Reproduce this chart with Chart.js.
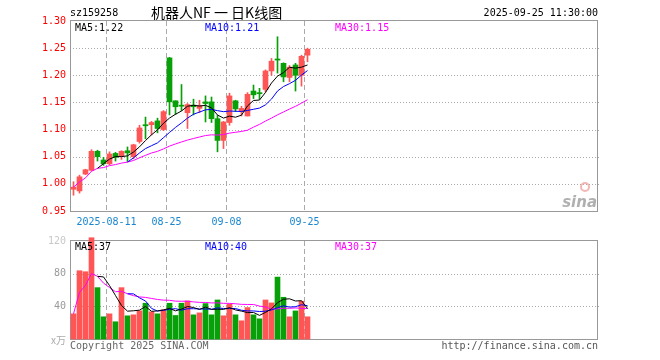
<!DOCTYPE html>
<html>
<head>
<meta charset="utf-8">
<script src="https://cdn.jsdelivr.net/npm/chart.js"></script>
<style>
  body { margin: 0; background: #fff; }
  #wrap { position: relative; width: 660px; height: 360px; }
  #wrap canvas { position: absolute; left: 0; top: 0; }
</style>
</head>
<body>
<div id="wrap">
  <canvas id="volChart" width="660" height="360"></canvas>
  <canvas id="kChart" width="660" height="360"></canvas>
</div>
<script>
// 机器人ETF 159258 daily K line, 2025-08-01 .. 2025-09-25
const dates = [
  "2025-08-01","2025-08-04","2025-08-05","2025-08-06","2025-08-07","2025-08-08",
  "2025-08-11","2025-08-12","2025-08-13","2025-08-14","2025-08-15","2025-08-18",
  "2025-08-19","2025-08-20","2025-08-21","2025-08-22","2025-08-25","2025-08-26",
  "2025-08-27","2025-08-28","2025-08-29","2025-09-01","2025-09-02","2025-09-03",
  "2025-09-04","2025-09-05","2025-09-08","2025-09-09","2025-09-10","2025-09-11",
  "2025-09-12","2025-09-15","2025-09-16","2025-09-17","2025-09-18","2025-09-19",
  "2025-09-22","2025-09-23","2025-09-24","2025-09-25"
];
const openP = [
  0.990, 0.987, 1.018, 1.025, 1.060, 1.044, 1.037, 1.056, 1.051, 1.061,
  1.050, 1.078, 1.109, 1.109, 1.116, 1.100, 1.232, 1.153, 1.145, 1.131,
  1.145, 1.139, 1.151, 1.151, 1.120, 1.080, 1.113, 1.153, 1.134, 1.125,
  1.171, 1.168, 1.174, 1.208, 1.230, 1.222, 1.196, 1.219, 1.200, 1.237
];
const closeP = [
  0.994, 1.013, 1.026, 1.060, 1.050, 1.037, 1.055, 1.049, 1.060, 1.057,
  1.072, 1.103, 1.107, 1.113, 1.102, 1.133, 1.151, 1.142, 1.143, 1.146,
  1.142, 1.144, 1.148, 1.120, 1.080, 1.114, 1.162, 1.138, 1.139, 1.165,
  1.164, 1.166, 1.208, 1.226, 1.228, 1.197, 1.215, 1.200, 1.235, 1.248
];
const highP = [
  1.004, 1.016, 1.027, 1.063, 1.062, 1.049, 1.059, 1.058, 1.061, 1.068,
  1.073, 1.108, 1.123, 1.115, 1.121, 1.135, 1.233, 1.153, 1.183, 1.148,
  1.156, 1.154, 1.162, 1.160, 1.126, 1.115, 1.167, 1.154, 1.143, 1.168,
  1.182, 1.176, 1.210, 1.231, 1.271, 1.223, 1.218, 1.222, 1.237, 1.250
];
const lowP = [
  0.979, 0.983, 1.017, 1.024, 1.042, 1.034, 1.035, 1.042, 1.045, 1.041,
  1.046, 1.075, 1.083, 1.090, 1.094, 1.098, 1.127, 1.128, 1.135, 1.102,
  1.127, 1.131, 1.114, 1.113, 1.059, 1.065, 1.108, 1.133, 1.125, 1.125,
  1.157, 1.156, 1.169, 1.200, 1.204, 1.188, 1.188, 1.171, 1.180, 1.225
];
// volume, 万手
const volume = [
  30.8, 83.6, 82.4, 124, 62.9, 27.2, 30.8, 21.1, 62.9, 28.4,
  29.6, 34.5, 43.8, 33.3, 30.8, 35.7, 43.8, 28.8, 43.8, 46.6,
  29.6, 32.0, 43.4, 29.6, 47.8, 28.4, 42.6, 29.6, 22.3, 38.5,
  29.6, 24.7, 47.8, 44.2, 75.8, 51.1, 27.2, 34.4, 46.2, 27.2
];

const axisTickIndex = [6, 16, 26, 39];
const axisTickLabels = ["2025-08-11", "08-25", "09-08", "09-25"];
const priceTicks = [1.30, 1.25, 1.20, 1.15, 1.10, 1.05, 1.00, 0.95];
const volTicks = [120, 80, 40];
const priceMaText = ["MA5:1.22", "MA10:1.21", "MA30:1.15"];
const volMaText = ["MA5:37", "MA10:40", "MA30:37"];

const UP = "#ff5555", DOWN = "#08a008";
const MA_COLORS = ["#000000", "#0000ff", "#ff00ff"];
const MONO = "10px 'DejaVu Sans Mono', monospace";
const SLOTS = 88;
const X_MIN = -7 / 12;

// moving average; partial=true averages whatever is there for the first days
function movingAvg(values, n, partial) {
  return values.map((_, i) => {
    if (i < n - 1 && !partial) return null;
    const s = values.slice(Math.max(0, i - n + 1), i + 1);
    return s.reduce((a, b) => a + b, 0) / s.length;
  });
}

const candleColors = closeP.map((c, i) => c >= openP[i] ? UP : DOWN);

function maDatasets(values) {
  const mas = [movingAvg(values, 5, false), movingAvg(values, 10, false), movingAvg(values, 30, true)];
  return mas.map((m, k) => ({
    type: "line",
    data: m.map((v, i) => ({ x: i, y: v })),
    borderColor: MA_COLORS[k],
    borderWidth: 1,
    pointRadius: 0,
    tension: 0,
    order: 0
  }));
}

function xScale() {
  return { type: "linear", display: false, min: X_MIN, max: X_MIN + SLOTS, offset: false };
}

function drawFrame(chart, hTicks) {
  const { ctx, chartArea: a, scales: { x, y } } = chart;
  ctx.save();
  ctx.strokeStyle = "#aaaaaa";
  ctx.lineWidth = 1;
  ctx.setLineDash([1, 2]);
  hTicks.forEach(v => {
    const py = Math.round(y.getPixelForValue(v)) + 0.5;
    ctx.beginPath(); ctx.moveTo(a.left, py); ctx.lineTo(a.right + 2, py); ctx.stroke();
  });
  ctx.setLineDash([5, 3]);
  axisTickIndex.forEach(i => {
    const px = Math.floor(x.getPixelForValue(i - 0.5)) + 0.5;
    ctx.beginPath(); ctx.moveTo(px, a.top); ctx.lineTo(px, a.bottom); ctx.stroke();
  });
  ctx.setLineDash([]);
  ctx.strokeStyle = "#999999";
  ctx.strokeRect(a.left + 0.5, a.top - 0.5, a.width - 1, a.height + 1);
  ctx.restore();
}

function drawMaText(ctx, a, texts, ty) {
  ctx.font = MONO;
  ctx.textAlign = "left";
  ctx.textBaseline = "middle";
  const xs = [a.left + 5, a.left + 135, a.left + 265];
  texts.forEach((t, k) => { ctx.fillStyle = MA_COLORS[k]; ctx.fillText(t, xs[k], ty); });
}

const kPlugin = {
  id: "kDecor",
  beforeDatasetsDraw(chart) {
    const { ctx, chartArea: a } = chart;
    drawFrame(chart, priceTicks.filter(v => v > 0.96 && v < 1.29));
    // sina watermark
    ctx.save();
    ctx.strokeStyle = "rgba(240,150,150,0.7)";
    ctx.lineWidth = 2;
    ctx.beginPath(); ctx.arc(a.right - 13, a.bottom - 24, 4, 0, Math.PI * 2); ctx.stroke();
    ctx.font = "italic bold 15px 'DejaVu Sans', sans-serif";
    ctx.fillStyle = "rgba(150,150,150,0.75)";
    ctx.textAlign = "right";
    ctx.textBaseline = "alphabetic";
    ctx.fillText("sina", a.right - 1, a.bottom - 4);
    ctx.restore();
  },
  afterDraw(chart) {
    const { ctx, chartArea: a, scales: { x, y } } = chart;
    ctx.save();
    // price labels
    ctx.font = MONO;
    ctx.fillStyle = "#ff0000";
    ctx.textAlign = "right";
    ctx.textBaseline = "middle";
    priceTicks.forEach(v => ctx.fillText(v.toFixed(2), a.left - 4, y.getPixelForValue(v)));
    // date labels
    ctx.fillStyle = "#1a86d0";
    ctx.textAlign = "center";
    axisTickIndex.forEach((i, k) => ctx.fillText(axisTickLabels[k], x.getPixelForValue(i - 0.5), a.bottom + 11));
    // MA values
    drawMaText(ctx, a, priceMaText, a.top + 7);
    // header
    ctx.fillStyle = "#000";
    ctx.textAlign = "left";
    ctx.fillText("sz159258", a.left, 13);
    ctx.textAlign = "right";
    ctx.fillText("2025-09-25 11:30:00", a.right, 13);
    ctx.textAlign = "left";
    ctx.font = "14px 'Noto Sans CJK SC', sans-serif";
    ctx.fillText("机器人NF 一 日K线图", 151, 13);
    ctx.restore();
  }
};

const volPlugin = {
  id: "volDecor",
  beforeDatasetsDraw(chart) {
    drawFrame(chart, [80, 40]);
  },
  afterDraw(chart) {
    const { ctx, chartArea: a, scales: { y } } = chart;
    ctx.save();
    ctx.font = MONO;
    ctx.textAlign = "right";
    ctx.textBaseline = "middle";
    volTicks.forEach(v => {
      ctx.fillStyle = v === 120 ? "#c8c8c8" : "#999999";
      ctx.fillText(String(v), a.left - 4, y.getPixelForValue(v));
    });
    ctx.fillStyle = "#aaaaaa";
    ctx.font = "10px 'Noto Sans CJK SC', sans-serif";
    ctx.fillText("x万", a.left - 4, a.bottom + 1);
    drawMaText(ctx, a, volMaText, a.top + 6);
    ctx.font = MONO;
    ctx.fillStyle = "#666666";
    ctx.textAlign = "left";
    ctx.fillText("Copyright 2025 SINA.COM", a.left, a.bottom + 7);
    ctx.textAlign = "right";
    ctx.fillStyle = "#555555";
    ctx.fillText("http://finance.sina.com.cn", a.right, a.bottom + 7);
    ctx.restore();
  }
};

const common = {
  responsive: false,
  animation: false,
  devicePixelRatio: 1,
  events: [],
  plugins: { legend: { display: false }, tooltip: { enabled: false } }
};

new Chart(document.getElementById("kChart"), {
  type: "bar",
  data: {
    datasets: [
      {
        data: dates.map((d, i) => ({ x: i, y: [lowP[i], highP[i]] })),
        backgroundColor: candleColors,
        barThickness: 1,
        grouped: false,
        order: 2
      },
      {
        data: dates.map((d, i) => ({ x: i, y: [openP[i], closeP[i]] })),
        backgroundColor: candleColors,
        barThickness: 5,
        minBarLength: 1,
        grouped: false,
        order: 1
      },
      ...maDatasets(closeP)
    ]
  },
  options: {
    ...common,
    layout: { padding: { left: 70, right: 62, top: 21, bottom: 149 } },
    scales: {
      x: xScale(),
      y: { display: false, min: 0.95, max: 1.30, beginAtZero: false }
    }
  },
  plugins: [kPlugin]
});

new Chart(document.getElementById("volChart"), {
  type: "bar",
  data: {
    datasets: [
      {
        data: volume.map((v, i) => ({ x: i, y: v })),
        backgroundColor: candleColors,
        barThickness: 5,
        grouped: false,
        clip: false,
        order: 1
      },
      ...maDatasets(volume)
    ]
  },
  options: {
    ...common,
    layout: { padding: { left: 70, right: 62, top: 241, bottom: 21 } },
    scales: {
      x: xScale(),
      y: { display: false, min: 0, max: 120 }
    }
  },
  plugins: [volPlugin]
});
</script>
</body>
</html>
